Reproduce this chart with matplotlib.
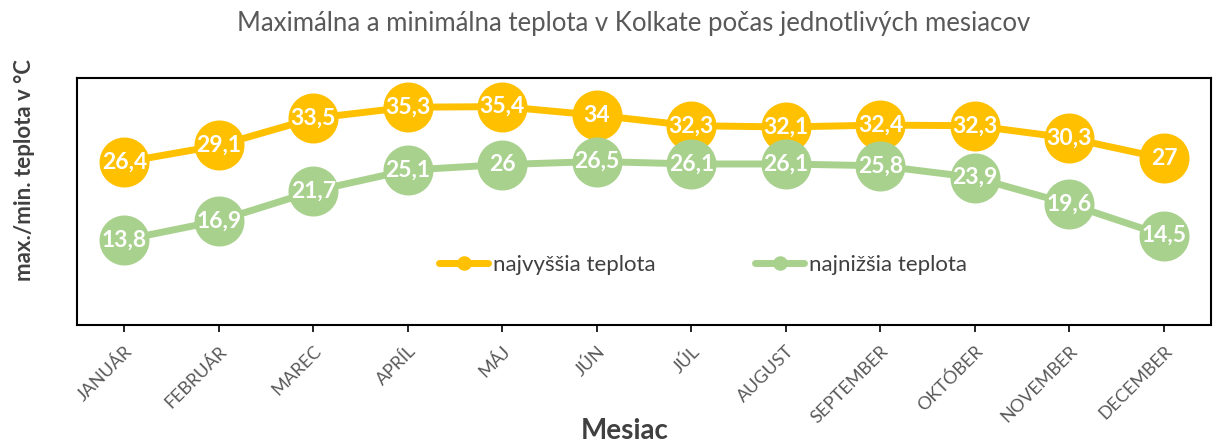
import matplotlib.pyplot as plt

months = ["JANUÁR", "FEBRUÁR", "MAREC", "APRÍL", "MÁJ", "JÚN", "JÚL",
          "AUGUST", "SEPTEMBER", "OKTÓBER", "NOVEMBER", "DECEMBER"]
t_max = [26.4, 29.1, 33.5, 35.3, 35.4, 34, 32.3, 32.1, 32.4, 32.3, 30.3, 27]
t_min = [13.8, 16.9, 21.7, 25.1, 26, 26.5, 26.1, 26.1, 25.8, 23.9, 19.6, 14.5]

ORANGE = "#FFC000"
GREEN = "#A9D18E"

plt.rcParams['font.family'] = ['Lato', 'DejaVu Sans']

fig = plt.figure(figsize=(12.13, 4.47), dpi=100)
ax = fig.add_axes([0.0635, 0.273, 0.935, 0.552])

x = list(range(len(months)))
ax.plot(x, t_max, color=ORANGE, linewidth=5, marker='o', markersize=35,
        label="najvyššia teplota", solid_capstyle='round')
ax.plot(x, t_min, color=GREEN, linewidth=5, marker='o', markersize=35,
        label="najnižšia teplota", solid_capstyle='round')


def fmt(v):
    s = f"{v:g}"
    return s.replace('.', ',')


for xi, v in zip(x, t_max):
    ax.text(xi, v, fmt(v), ha='center', va='center', color='white',
            fontsize=16.5, fontweight='bold')
for xi, v in zip(x, t_min):
    ax.text(xi, v, fmt(v), ha='center', va='center', color='white',
            fontsize=16.5, fontweight='bold')

ax.set_xlim(-0.5, 11.5)
ax.set_ylim(0, 40)
ax.set_yticks([])
ax.set_xticks(x)
ax.set_xticklabels(months, rotation=45, ha='right', rotation_mode='anchor',
                   fontsize=13, color='#595959')
ax.tick_params(axis='x', direction='out', length=5, width=1.2, color='black', pad=8)
for sp in ax.spines.values():
    sp.set_linewidth(1.5)
    sp.set_color('black')

fig.text(0.515, 0.035, "Mesiac", ha='center', va='center',
         fontsize=20, fontweight='bold', color='#404040')
fig.text(0.02, 0.62, "max./min. teplota v °C", rotation=90, ha='center', va='center',
         fontsize=16, fontweight='bold', color='#404040')

fig.suptitle("Maximálna a minimálna teplota v Kolkate počas jednotlivých mesiacov",
             x=0.522, y=0.975, fontsize=18.5, color='#595959')

handles, labels = ax.get_legend_handles_labels()
leg = ax.legend(handles, labels, loc='center', bbox_to_anchor=(0.552, 0.243), ncol=2,
                frameon=False, fontsize=16, markerscale=0.27, handlelength=2.2,
                columnspacing=4.5, handletextpad=0.2)
for t in leg.get_texts():
    t.set_color('#404040')

fig.savefig("out.png", dpi=100)
